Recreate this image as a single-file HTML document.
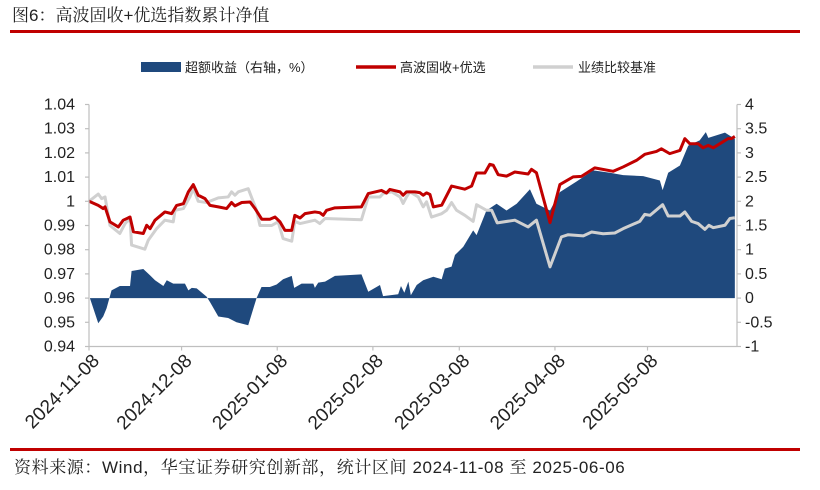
<!DOCTYPE html>
<html><head><meta charset="utf-8"><style>
body{margin:0;background:#fff;}
svg{display:block;font-family:"Liberation Sans","Noto Sans CJK SC",sans-serif;}
</style></head><body>
<svg id="c" width="820" height="490" viewBox="0 0 820 490">
<text x="12" y="21" font-size="17" fill="#222" style="font-family:'Liberation Sans','Noto Serif CJK SC',serif">图6：高波固收+优选指数累计净值</text>
<rect x="10" y="30" width="790" height="3" fill="#c00000"/>
<g>
<g><rect x="141" y="62" width="40" height="10" fill="#1f497d"/><text x="185" y="72" font-size="13" fill="#222">超额收益（右轴，%）</text></g>
<g><line x1="356" y1="67" x2="396" y2="67" stroke="#c00000" stroke-width="3.5"/><text x="400" y="72" font-size="13" fill="#222">高波固收+优选</text></g>
<g><line x1="533" y1="67" x2="573" y2="67" stroke="#d0d0d0" stroke-width="3.5"/><text x="578" y="72" font-size="13" fill="#222">业绩比较基准</text></g>
</g>
<g id="plot"></g>
<rect x="10" y="448" width="790" height="3" fill="#c00000"/>
<text x="14" y="473" font-size="17" fill="#222" letter-spacing="0.6" style="font-family:'Liberation Sans','Noto Serif CJK SC',serif">资料来源：Wind，华宝证券研究创新部，统计区间 2024-11-08 至 2025-06-06</text>
</svg>
<script>
const fundDays=[0,3,4.6,5.2,6.8,9.5,11.1,13.3,14.4,17.6,18.7,19.8,21.4,24.6,26.8,28.4,30.6,32.2,33.8,35.4,37.6,39.2,41.9,44.6,46.2,47.3,49.5,52.2,53.8,56,58.6,60.3,61.9,63.5,65.7,66.7,68.4,70,73.2,74.8,75.9,77,79.7,88.3,90.5,94.8,96.4,97.5,100.8,101.8,102.9,105.6,107.2,108.3,109.4,110.5,111.6,114.3,117.5,121.8,124,125.6,128.3,129.9,131,132.6,135.3,138,142.3,143.4,145,149.4,152.6,156.9,159.6,163.9,169.9,173.1,177.4,180.1,183.9,185.5,188.2,191.5,193.1,194.7,197.4,199,200.7,202.3,207.1,208.2,209.3];
const fundValues=[1.0,0.9983,0.997,0.9977,0.9915,0.9894,0.9922,0.9935,0.9874,0.9867,0.9901,0.9887,0.9922,0.9956,0.9949,0.9983,0.999,1.0039,1.0069,1.0025,1.0011,0.9983,0.9977,0.997,0.9995,0.9981,0.9995,0.9997,0.997,0.9926,0.9926,0.9935,0.9915,0.988,0.988,0.9942,0.9931,0.9949,0.9956,0.9953,0.9942,0.9963,0.9973,0.9977,1.0032,1.0045,1.0034,1.0049,1.0039,1.0025,1.0039,1.0039,1.0036,1.0025,1.0035,1.0028,0.9977,0.9984,1.0063,1.005,1.0063,1.0117,1.0117,1.0153,1.0149,1.011,1.0104,1.0121,1.0113,1.0132,1.0118,0.9912,1.0069,1.0101,1.0103,1.0138,1.0124,1.0142,1.0169,1.0194,1.0206,1.0217,1.0197,1.021,1.0259,1.0238,1.0238,1.0221,1.0231,1.0221,1.0259,1.0259,1.0268];
const benchDays=[0,3,4.1,5.2,6.8,10,11.7,13.3,13.8,18.1,19.2,21.9,24.6,27.3,27.9,30.6,32.7,33.8,35.4,38.1,41.9,45.1,46.2,47.3,48.4,51.6,54.3,55.4,59.2,61.3,62.9,65.7,66.7,68.4,73.2,74.8,76.5,88.3,90.5,94.3,95.3,98.1,100.8,101.8,102.9,104,106.7,108.3,109.4,111,114.3,115.9,117.5,119.1,121.8,124.5,125.6,128.8,130.5,132.3,138,142.3,145,149.4,153.1,155.3,160.2,162.9,166.6,170.4,173.1,178.5,180.1,181.8,185.9,187.7,191.5,193.1,195.3,197.4,199.6,200.9,202.3,206.1,207.7,209.3];
const benchValues=[1.0,1.003,1.0011,1.0018,0.99,0.9867,0.9908,0.9929,0.9819,0.9802,0.9839,0.9887,0.9922,0.9915,0.9963,0.997,1.0018,1.0052,1.0,0.9995,1.0014,1.0018,1.0039,1.0025,1.0039,1.0052,0.9963,0.99,0.99,0.9915,0.9846,0.9835,0.9917,0.9908,0.9922,0.9908,0.9929,0.9924,1.0018,1.0018,1.0032,1.0039,1.0018,0.9991,1.0018,1.0039,1.0018,0.9977,0.9998,0.9935,0.9949,0.9963,0.9995,0.9963,0.9942,0.9917,0.9986,0.9963,0.9963,0.9911,0.9922,0.9894,0.9922,0.9729,0.9853,0.9862,0.9857,0.9873,0.9866,0.9869,0.9887,0.9917,0.9946,0.9942,0.9986,0.9939,0.9939,0.9956,0.9917,0.9908,0.9884,0.9901,0.9891,0.9901,0.9929,0.9932];
const excessDays=[0.3,3,4.6,5.7,7.3,10,13.3,13.8,17.6,19.8,21.4,24.1,25.2,27.3,31.1,32.2,33.3,34.9,38.1,39.2,41.9,45.1,47.8,51.6,54.3,55.9,58.6,60.8,62.9,65.7,66.5,68.9,72.7,73.2,74.3,76.5,79.7,88.3,90.5,94.3,95.3,100.2,101.1,102.2,103.5,104.3,106.2,108.3,111.6,114.3,115.3,117.5,118.6,121.3,124.5,125.6,128.8,132.1,135.3,138.6,142.9,145,149.4,152.6,158,163.4,168.8,173.1,179.6,185,185.9,187.7,191.5,194.2,197.9,199.9,200.7,206.1,209.3];
const excessValues=[0,-0.52,-0.38,-0.21,0.16,0.25,0.25,0.56,0.6,0.47,0.37,0.25,0.37,0.3,0.3,0.16,0.21,0.2,0.03,-0.08,-0.38,-0.41,-0.5,-0.56,0,0.23,0.23,0.28,0.39,0.46,0.21,0.3,0.3,0.21,0.32,0.34,0.46,0.49,0.13,0.27,0.04,0.08,0.25,0.11,0.34,0.06,0.27,0.37,0.44,0.39,0.61,0.65,0.89,1.06,1.4,1.3,1.81,1.95,1.81,1.95,2.25,1.95,1.81,2.19,2.41,2.64,2.59,2.54,2.52,2.43,2.23,2.59,2.74,3.15,3.26,3.43,3.31,3.42,3.29];
const leftTicks=[0.94,0.95,0.96,0.97,0.98,0.99,1,1.01,1.02,1.03,1.04];
const rightTicks=[-1,-0.5,0,0.5,1,1.5,2,2.5,3,3.5,4];
const xTickLabels=["2024-11-08","2024-12-08","2025-01-08","2025-02-08","2025-03-08","2025-04-08","2025-05-08"];
const xTickDays=[0,30,61,92,120,151,181];

const X0=89,X1=737,Y0=346.5,Y1=104.5,NS="http://www.w3.org/2000/svg";
const xs=d=>X0+d*(X1-X0)/210;
const yl=v=>Y0+(v-0.94)*(Y1-Y0)/0.10;
const yr=v=>Y0+(v+1)*(Y1-Y0)/5;
const plot=document.getElementById('plot');
function mk(tag,attrs,parent){const e=document.createElementNS(NS,tag);for(const k in attrs)e.setAttribute(k,attrs[k]);(parent||plot).appendChild(e);return e;}

let d=`M${xs(excessDays[0])},${yr(0)}`;
excessDays.forEach((t,i)=>{d+=`L${xs(t)},${yr(excessValues[i])}`;});
d+=`L${xs(excessDays[excessDays.length-1])},${yr(0)}Z`;
const area=mk('path',{d:d,fill:'#1f497d'});



function line(days,vals,color,name){
  const p=mk('polyline',{points:days.map((t,i)=>xs(t)+','+yl(vals[i])).join(' '),fill:'none',stroke:color,'stroke-width':3,'stroke-linejoin':'round'});
  
  
}
line(benchDays,benchValues,'#d0d0d0','benchmark-line');
line(fundDays,fundValues,'#c00000','fund-line');

const ax=mk('g',{stroke:'#bfbfbf','stroke-width':1.2});


mk('line',{x1:X0,y1:Y1,x2:X0,y2:Y0},ax);
mk('line',{x1:X1,y1:Y1,x2:X1,y2:Y0},ax);
mk('line',{x1:X0,y1:Y0,x2:X1,y2:Y0},ax);
leftTicks.forEach(v=>{
  mk('line',{x1:X0-4,y1:yl(v),x2:X0,y2:yl(v)},ax);
  const t=mk('text',{x:X0-14,y:yl(v)+5,'font-size':16,'text-anchor':'end',fill:'#222',stroke:'none'});
  t.textContent=String(v);
  
  
});
rightTicks.forEach(v=>{
  mk('line',{x1:X1,y1:yr(v),x2:X1+4,y2:yr(v)},ax);
  const t=mk('text',{x:X1+8,y:yr(v)+5,'font-size':16,'text-anchor':'start',fill:'#222',stroke:'none'});
  t.textContent=String(v);
  
  
});
xTickDays.forEach((t,i)=>{
  const x=xs(t);
  mk('line',{x1:x,y1:Y0,x2:x,y2:Y0+4},ax);
  const tx=mk('text',{x:x+2,y:Y0+6,'font-size':19,'text-anchor':'end',fill:'#222',stroke:'none',transform:`rotate(-45 ${x+2} ${Y0+6})`,dy:'0.7em'});
  tx.textContent=xTickLabels[i];
  
  
});
</script>
</body></html>
